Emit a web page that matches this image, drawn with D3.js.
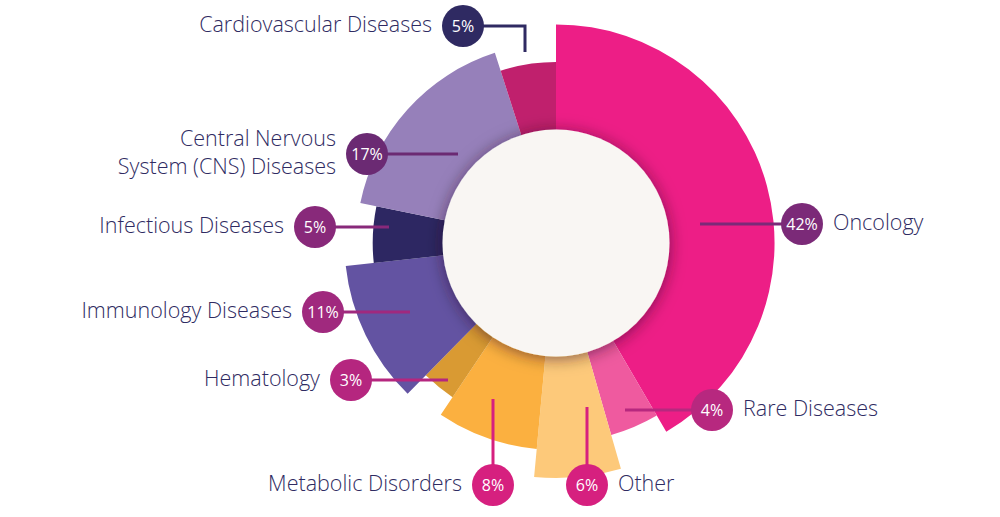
<!DOCTYPE html>
<html>
<head>
<meta charset="utf-8">
<script src="https://cdn.jsdelivr.net/npm/d3@7"></script>
<style>
  html, body { margin: 0; padding: 0; background: #ffffff; }
  #chart { width: 1000px; height: 517px; }
  .name { font-family: "Open Sans", sans-serif; font-weight: 300; font-size: 21.5px; fill: #2f2b62; }
  .pct { font-family: "Open Sans", sans-serif; font-weight: 500; font-size: 16px; fill: #ffffff; }
</style>
</head>
<body>
<div id="chart"></div>
<script>
// data
var categories = ["Oncology", "Rare Diseases", "Other", "Metabolic Disorders", "Hematology",
                  "Immunology Diseases", "Infectious Diseases",
                  "Central Nervous\nSystem (CNS) Diseases", "Cardiovascular Diseases"];
var shares = [42, 4, 6, 8, 3, 11, 5, 17, 5];
// how far each petal reaches, as % of the longest one
var reach = [93, 85, 100, 88, 79, 90, 78, 85, 77];

// styles
var sliceColors = ["#ed1e86", "#ef5a9f", "#fdc97a", "#fbb040", "#d99a33",
                   "#6353a2", "#2d2762", "#9680ba", "#c0206d"];
var badgeColors = ["#7b2a78", "#b7287f", "#d6207f", "#d6207f", "#b5267f",
                   "#a0297e", "#88297a", "#6b2a73", "#2f2a62"];

// label layout, offsets from the chart centre: badge centre, connector end, text side
var labelLayout = [
  { badge: [246, -19], end: [144, -19], side: "right" },
  { badge: [156, 167], end: [69, 167], side: "right" },
  { badge: [31, 242], end: [31, 164], side: "right" },
  { badge: [-63, 242], end: [-63, 156], side: "left" },
  { badge: [-205, 137], end: [-108, 137], side: "left" },
  { badge: [-233, 69], end: [-146, 69], side: "left" },
  { badge: [-241, -16], end: [-167, -16], side: "left" },
  { badge: [-189, -89], end: [-98, -89], side: "left" },
  { badge: [-93, -217], end: [-31, -191], side: "left" }
];

var width = 1000, height = 517;
var cx = 556, cy = 243;
var holeR = 113.5, maxR = 235, badgeR = 21;

var rows = categories.map(function(c, i) {
  return { name: c, share: shares[i], reach: reach[i], color: sliceColors[i],
           badgeColor: badgeColors[i], layout: labelLayout[i] };
});

var svg = d3.select("#chart").append("svg").attr("width", width).attr("height", height);

var defs = svg.append("defs");
var shadow = defs.append("filter").attr("id", "holeShadow")
  .attr("x", "-30%").attr("y", "-30%").attr("width", "160%").attr("height", "160%");
shadow.append("feDropShadow").attr("dx", 0).attr("dy", 2)
  .attr("stdDeviation", 8).attr("flood-color", "#2a0620").attr("flood-opacity", 0.55);

var g = svg.append("g").attr("transform", "translate(" + cx + "," + cy + ")");

var r = d3.scaleLinear().domain([0, 100]).range([0, maxR]);
var pie = d3.pie().sort(null).value(function(d) { return d.share; });
var arc = d3.arc().innerRadius(60).outerRadius(function(d) { return r(d.data.reach); });

// petals
g.append("g").attr("class", "slices")
  .selectAll("path").data(pie(rows)).enter()
  .append("path")
  .attr("d", arc)
  .attr("fill", function(d) { return d.data.color; });

// centre disc
g.append("circle").attr("r", holeR).attr("fill", "#f9f6f3").attr("filter", "url(#holeShadow)");

// connectors
g.append("g").attr("class", "links")
  .selectAll("path").data(rows).enter()
  .append("path")
  .attr("d", function(d) {
    var b = d.layout.badge, e = d.layout.end;
    return d3.line()([b, [e[0], b[1]], e]);
  })
  .attr("fill", "none")
  .attr("stroke", function(d) { return d.badgeColor; })
  .attr("stroke-width", 3);

// badges
var badges = g.append("g").attr("class", "badges")
  .selectAll("g").data(rows).enter()
  .append("g")
  .attr("transform", function(d) { return "translate(" + d.layout.badge[0] + "," + d.layout.badge[1] + ")"; });

badges.append("circle").attr("r", badgeR).attr("fill", function(d) { return d.badgeColor; });
badges.append("text").attr("class", "pct")
  .attr("text-anchor", "middle").attr("dy", "0.35em")
  .text(function(d) { return d.share + "%"; });

// category names
var names = badges.append("text").attr("class", "name")
  .attr("text-anchor", function(d) { return d.layout.side == "right" ? "start" : "end"; });

names.each(function(d) {
  var lines = d.name.split("\n");
  var x = d.layout.side == "right" ? badgeR + 10 : -badgeR - 10;
  var lh = 28;
  var first = -(lines.length - 1) * lh / 2;
  d3.select(this).selectAll("tspan").data(lines).enter()
    .append("tspan")
    .attr("x", x)
    .attr("y", function(l, i) { return first + i * lh; })
    .attr("dy", "0.28em")
    .text(function(l) { return l; });
});
</script>
</body>
</html>
